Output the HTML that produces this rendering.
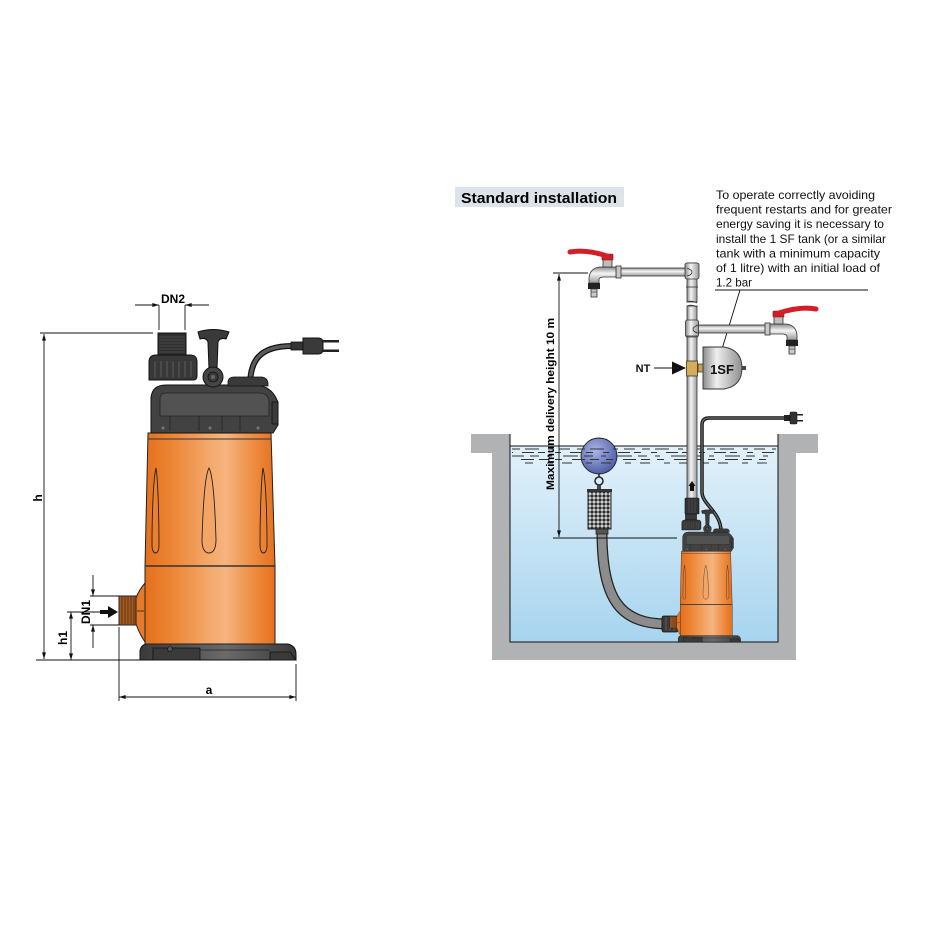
<!DOCTYPE html>
<html><head><meta charset="utf-8"><style>
html,body{margin:0;padding:0;background:#fff;}
svg{display:block;}
text{font-family:"Liberation Sans",sans-serif;}
</style></head><body>
<svg width="940" height="940" viewBox="0 0 940 940" xmlns="http://www.w3.org/2000/svg">
<defs>
<linearGradient id="og" x1="0" x2="1" y1="0" y2="0">
<stop offset="0" stop-color="#e5701c"/><stop offset="0.2" stop-color="#ec8434"/><stop offset="0.5" stop-color="#f4a96c"/><stop offset="0.62" stop-color="#f6b47f"/><stop offset="0.85" stop-color="#ed8a3c"/><stop offset="1" stop-color="#e4711f"/>
</linearGradient>
<linearGradient id="bg" x1="0" x2="1" y1="0" y2="0">
<stop offset="0" stop-color="#3a3a3a"/><stop offset="0.55" stop-color="#6a6a6a"/><stop offset="1" stop-color="#3a3a3a"/>
</linearGradient>
<linearGradient id="pv" x1="0" x2="1" y1="0" y2="0">
<stop offset="0" stop-color="#8a8a8a"/><stop offset="0.4" stop-color="#f4f4f4"/><stop offset="1" stop-color="#9a9a9a"/>
</linearGradient>
<linearGradient id="ph" x1="0" x2="0" y1="0" y2="1">
<stop offset="0" stop-color="#8a8a8a"/><stop offset="0.4" stop-color="#f4f4f4"/><stop offset="1" stop-color="#9a9a9a"/>
</linearGradient>
<linearGradient id="water" x1="0" x2="0" y1="0" y2="1">
<stop offset="0" stop-color="#e2f1fa"/><stop offset="1" stop-color="#a7d4ef"/>
</linearGradient>
<linearGradient id="tankg" x1="0" x2="1" y1="0" y2="0">
<stop offset="0" stop-color="#8c8c8c"/><stop offset="0.35" stop-color="#efefef"/><stop offset="1" stop-color="#8e8e8e"/>
</linearGradient>
<radialGradient id="ball" cx="0.4" cy="0.35" r="0.7">
<stop offset="0" stop-color="#a9b6e6"/><stop offset="1" stop-color="#4a58a4"/>
</radialGradient>
<pattern id="mesh" width="4" height="4" patternUnits="userSpaceOnUse">
<rect width="4" height="4" fill="#2a2a2a"/><path d="M0,2 L2,0 L4,2 L2,4 Z" fill="#cfcfcf"/>
</pattern>
<marker id="ar" viewBox="0 0 10 6" refX="10" refY="3" markerWidth="7" markerHeight="4" orient="auto-start-reverse" markerUnits="userSpaceOnUse"><path d="M0,0 L10,3 L0,6 z" fill="#111"/></marker>

<g id="pump">
 <!-- base -->
 <path d="M140,660 L140,651 Q141,644 148,644 L288,644 Q296,646 296,654 L296,660 Z" fill="url(#bg)" stroke="#111" stroke-width="1"/>
 <path d="M153,660 L153,648 L200,648 L200,660 Z" fill="#3a3a3a" stroke="#111" stroke-width="0.8"/>
 <path d="M270,660 L270,652 L290,652 L296,660 Z" fill="#3a3a3a" stroke="#111" stroke-width="0.8"/>
 <line x1="200" y1="650" x2="270" y2="650" stroke="#222" stroke-width="0.8"/>
 <circle cx="170" cy="649" r="2.5" fill="#555" stroke="#111" stroke-width="0.6"/>
 <!-- lower body -->
 <rect x="145" y="566" width="130" height="78" fill="url(#og)" stroke="#222" stroke-width="1"/>
 <!-- upper body -->
 <path d="M148,433 L271,433 L275,566 L145,566 Z" fill="url(#og)" stroke="#222" stroke-width="1"/>
 <line x1="148" y1="439" x2="271" y2="439" stroke="#333" stroke-width="1"/>
 <line x1="145" y1="566" x2="275" y2="566" stroke="#333" stroke-width="1.5"/>
 <!-- grooves -->
 <path d="M156,468 C153,480 152,520 152,545 C152,551 154,553 155.5,553 C157,553 159,551 159,545 C159,520 158,480 156,468 Z" fill="#ea7f2e" stroke="#222" stroke-width="0.9"/>
 <path d="M209,468 C205,475 203,505 202,540 C202,549 205,553 209,553 C213,553 216,549 216,540 C215,505 213,475 209,468 Z" fill="#f3a566" stroke="#222" stroke-width="0.9"/>
 <path d="M263,468 C261,480 260,520 260,545 C260,551 262,553 263.5,553 C265,553 267,551 267,545 C267,520 266,480 263,468 Z" fill="#eb8232" stroke="#222" stroke-width="0.9"/>
 <!-- inlet -->
 <path d="M145,583 Q139,590 136,598 L136,624 Q139,633 145,642 Z" fill="#e77a28" stroke="#222" stroke-width="1"/>
 <line x1="137" y1="611" x2="144" y2="611" stroke="#222" stroke-width="0.8"/>
 <rect x="119" y="596" width="17" height="29" fill="#a15a22" stroke="#222" stroke-width="1"/>
 <g stroke="#5a2e10" stroke-width="0.8">
  <line x1="122" y1="597" x2="122" y2="624"/><line x1="125" y1="597" x2="125" y2="624"/><line x1="128" y1="597" x2="128" y2="624"/><line x1="131" y1="597" x2="131" y2="624"/><line x1="134" y1="597" x2="134" y2="624"/>
 </g>
 <!-- housing -->
 <path d="M151,433 L151,398 Q152,385 166,385 L254,385 Q268,385 275,396 L278,402 L278,425 L273,433 Z" fill="#424242" stroke="#111" stroke-width="1"/>
 <path d="M166,393 L260,393 Q267,393 269,400 L269,416 L160,416 L160,399 Q160,393 166,393 Z" fill="#525252" stroke="#222" stroke-width="0.8"/>
 <g stroke="#222" stroke-width="0.8" fill="none">
  <path d="M170,416 L170,431 M199,416 L199,431 M222,416 L222,431 M240,416 L240,431"/>
 </g>
 <circle cx="163" cy="428" r="1.5" fill="#777"/><circle cx="210" cy="428" r="1.5" fill="#777"/><circle cx="258" cy="428" r="1.5" fill="#777"/>
 <rect x="272" y="402" width="6" height="22" fill="#3a3a3a" stroke="#111" stroke-width="0.8"/>
 <path d="M228,386 L228,381 Q229,377 234,377 L262,377 Q268,378 268,384 L268,386 Z" fill="#3a3a3a" stroke="#111" stroke-width="0.8"/>
 <!-- outlet thread -->
 <rect x="158" y="333" width="28" height="22" fill="#2f2f2f" stroke="#111" stroke-width="1"/>
 <g stroke="#555" stroke-width="0.7">
  <line x1="159" y1="337" x2="185" y2="337"/><line x1="159" y1="340" x2="185" y2="340"/><line x1="159" y1="343" x2="185" y2="343"/><line x1="159" y1="346" x2="185" y2="346"/><line x1="159" y1="349" x2="185" y2="349"/><line x1="159" y1="352" x2="185" y2="352"/>
 </g>
 <!-- nut -->
 <path d="M149,380 L149,362 Q149,355 156,355 L190,355 Q197,355 197,362 L197,376 Q197,380 193,380 L153,380 Z" fill="#383838" stroke="#111" stroke-width="1"/>
 <g stroke="#5c5c5c" stroke-width="1">
  <line x1="155" y1="361" x2="155" y2="377"/><line x1="161" y1="361" x2="161" y2="377"/><line x1="167" y1="361" x2="167" y2="377"/><line x1="173" y1="361" x2="173" y2="377"/><line x1="179" y1="361" x2="179" y2="377"/><line x1="185" y1="361" x2="185" y2="377"/><line x1="191" y1="361" x2="191" y2="377"/>
 </g>
 <!-- handle -->
 <path d="M198,332 Q213,327 229,332 L226,339 Q220,337 218,342 L217,369 L209,369 L208,342 Q206,337 200,339 Z" fill="#3a3a3a" stroke="#111" stroke-width="1"/>
 <circle cx="213" cy="377" r="10" fill="#454545" stroke="#111" stroke-width="1"/>
 <circle cx="213" cy="377" r="5" fill="#3a3a3a" stroke="#111" stroke-width="0.8"/>
 <circle cx="213" cy="377" r="2" fill="#666"/>
</g>
</defs>

<rect width="940" height="940" fill="#fff"/>

<!-- ================= LEFT PUMP ================= -->
<path d="M250,386 C250,362 258,346 292,346" fill="none" stroke="#111" stroke-width="6"/>
<path d="M250,386 C250,362 258,346 292,346" fill="none" stroke="#5a5a5a" stroke-width="3.5"/>
<rect x="291" y="342" width="12" height="8" fill="#333" stroke="#111" stroke-width="0.8"/>
<path d="M303,338 L318,338 Q323,338 323,343 L323,349 Q323,354 318,354 L303,354 Z" fill="#3a3a3a" stroke="#111" stroke-width="1"/>
<rect x="323" y="340" width="16" height="2.5" fill="#222"/>
<rect x="323" y="349.5" width="16" height="2.5" fill="#222"/>

<use href="#pump"/>

<!-- left dimensions -->
<g stroke="#111" stroke-width="0.9" fill="none">
 <line x1="40" y1="333" x2="153" y2="333"/>
 <line x1="36" y1="660" x2="148" y2="660"/>
 <line x1="44" y1="334" x2="44" y2="659" marker-start="url(#ar)" marker-end="url(#ar)"/>
 <line x1="159" y1="305" x2="159" y2="330"/>
 <line x1="185" y1="305" x2="185" y2="330"/>
 <line x1="135" y1="305" x2="159" y2="305" marker-end="url(#ar)"/>
 <line x1="209" y1="305" x2="185" y2="305" marker-end="url(#ar)"/>
 <line x1="90" y1="596" x2="119" y2="596"/>
 <line x1="90" y1="625" x2="119" y2="625"/>
 <line x1="93" y1="575" x2="93" y2="596" marker-end="url(#ar)"/>
 <line x1="93" y1="648" x2="93" y2="625" marker-end="url(#ar)"/>
 <line x1="67" y1="612" x2="104" y2="612"/>
 <line x1="71" y1="612" x2="71" y2="660" marker-start="url(#ar)" marker-end="url(#ar)"/>
 <line x1="119" y1="627" x2="119" y2="701"/>
 <line x1="296" y1="664" x2="296" y2="701"/>
 <line x1="119" y1="697" x2="296" y2="697" marker-start="url(#ar)" marker-end="url(#ar)"/>
</g>
<path d="M100,610 L108,610 L108,606 L118,612 L108,618 L108,614 L100,614 Z" fill="#111"/>
<text x="173" y="303" font-size="12" font-weight="bold" text-anchor="middle">DN2</text>
<text transform="translate(42,498) rotate(-90)" font-size="12" font-weight="bold" text-anchor="middle">h</text>
<text transform="translate(67,638) rotate(-90)" font-size="12" font-weight="bold" text-anchor="middle">h1</text>
<text transform="translate(90,612) rotate(-90)" font-size="12" font-weight="bold" text-anchor="middle">DN1</text>
<text x="209" y="694" font-size="12" font-weight="bold" text-anchor="middle">a</text>

<!-- ================= RIGHT: STANDARD INSTALLATION ================= -->
<rect x="455" y="187" width="169" height="20" fill="#dde3ea"/>
<text x="461" y="203" font-size="15" font-weight="bold" textLength="156" lengthAdjust="spacingAndGlyphs">Standard installation</text>

<g font-size="12" fill="#111">
 <text x="716" y="199" textLength="159" lengthAdjust="spacingAndGlyphs">To operate correctly avoiding</text>
 <text x="716" y="213.6" textLength="176" lengthAdjust="spacingAndGlyphs">frequent restarts and for greater</text>
 <text x="716" y="228.2" textLength="168" lengthAdjust="spacingAndGlyphs">energy saving it is necessary to</text>
 <text x="716" y="242.8" textLength="170" lengthAdjust="spacingAndGlyphs">install the 1 SF tank (or a similar</text>
 <text x="716" y="257.4" textLength="164" lengthAdjust="spacingAndGlyphs">tank with a minimum capacity</text>
 <text x="716" y="272" textLength="164" lengthAdjust="spacingAndGlyphs">of 1 litre) with an initial load of</text>
 <text x="716" y="286.6" textLength="36" lengthAdjust="spacingAndGlyphs">1.2 bar</text>
</g>
<line x1="715" y1="290" x2="868" y2="290" stroke="#111" stroke-width="0.9"/>
<line x1="740" y1="290" x2="722" y2="349" stroke="#111" stroke-width="0.9"/>

<!-- tank walls -->
<path d="M471,434 L510,434 L510,642 L778,642 L778,434 L818,434 L818,453 L796,453 L796,660 L492,660 L492,453 L471,453 Z" fill="#b1b2b4"/>
<rect x="510" y="446" width="268" height="196" fill="url(#water)"/>
<path d="M510,434 L510,642 L778,642 L778,434" fill="none" stroke="#111" stroke-width="1"/>
<line x1="510" y1="446" x2="778" y2="446" stroke="#111" stroke-width="1"/>

<!-- float ball & strainer -->
<circle cx="599" cy="456" r="18" fill="url(#ball)" stroke="#222" stroke-width="0.9"/>
<line x1="599" y1="474" x2="599" y2="477" stroke="#222" stroke-width="1.5"/>
<circle cx="599" cy="481" r="4" fill="none" stroke="#222" stroke-width="1.5"/>
<rect x="597" y="485" width="4" height="5" fill="#444"/>

<!-- water dashes -->
<g stroke="#333" stroke-width="0.9" fill="none">
 <line x1="512" y1="449" x2="776" y2="449" stroke-dasharray="8 5 14 9 5 6 11 7"/>
 <line x1="512" y1="452.5" x2="776" y2="452.5" stroke-dasharray="6 9 12 4 7 10" stroke-dashoffset="5"/>
 <line x1="512" y1="456" x2="776" y2="456" stroke-dasharray="15 6 9 8 5 11" stroke-dashoffset="3"/>
 <line x1="512" y1="459.5" x2="776" y2="459.5" stroke-dasharray="7 10 13 5 9 7" stroke-dashoffset="8"/>
 <line x1="525" y1="463" x2="770" y2="463" stroke-dasharray="10 14 6 9" stroke-dashoffset="2"/>
</g>

<!-- hose -->
<path d="M602,532 C602,600 620,624 668,624" fill="none" stroke="#222" stroke-width="11"/>
<path d="M602,532 C602,600 620,624 668,624" fill="none" stroke="#8c8c8c" stroke-width="8.5"/>
<rect x="596" y="528" width="12" height="6" fill="#555" stroke="#222" stroke-width="0.8"/>
<rect x="662" y="616" width="16" height="16" rx="2" fill="#3a3a3a" stroke="#111" stroke-width="0.8"/>
<g stroke="#666" stroke-width="0.8"><line x1="666" y1="617" x2="666" y2="631"/><line x1="670" y1="617" x2="670" y2="631"/><line x1="674" y1="617" x2="674" y2="631"/></g>

<rect x="588" y="490" width="23" height="39" fill="url(#mesh)" stroke="#222" stroke-width="1"/>
<rect x="587" y="489" width="25" height="3" fill="#333"/>

<!-- small pump cord -->
<path d="M721,533 C722,512 702,505 702,492 L702,425 Q702,418 709,418 L786,418" fill="none" stroke="#111" stroke-width="3.5"/>
<path d="M721,533 C722,512 702,505 702,492 L702,425 Q702,418 709,418 L786,418" fill="none" stroke="#666" stroke-width="1.5"/>
<rect x="784" y="415" width="6" height="6" fill="#222"/>
<rect x="790" y="412" width="7" height="12" rx="1.5" fill="#333" stroke="#111" stroke-width="0.6"/>
<rect x="797" y="414" width="6" height="1.5" fill="#222"/><rect x="797" y="420" width="6" height="1.5" fill="#222"/>

<!-- small pump -->
<use href="#pump" transform="translate(622.2,378) scale(0.4)"/>

<!-- delivery pipe -->
<rect x="687" y="306" width="10" height="206" fill="url(#pv)" stroke="#333" stroke-width="0.8"/>
<rect x="687" y="263" width="10" height="39" fill="url(#pv)" stroke="#333" stroke-width="0.8"/>
<path d="M687,302 Q692,300 697,303" fill="none" stroke="#333" stroke-width="0.8"/>
<path d="M687,306 Q692,304 697,307" fill="none" stroke="#333" stroke-width="0.8"/>
<rect x="685" y="498" width="14" height="16" rx="1" fill="#333" stroke="#111" stroke-width="0.6"/>
<g stroke="#555" stroke-width="0.7"><line x1="689" y1="499" x2="689" y2="513"/><line x1="692" y1="499" x2="692" y2="513"/><line x1="695" y1="499" x2="695" y2="513"/></g>
<path d="M690,491 L690,486 L688.5,486 L692,481 L695.5,486 L694,486 L694,491 Z" fill="#111"/>

<!-- top horizontal pipe -->
<rect x="620" y="268" width="70" height="8" fill="url(#ph)" stroke="#333" stroke-width="0.8"/>
<rect x="685" y="263" width="14" height="16" rx="2" fill="url(#pv)" stroke="#333" stroke-width="0.8"/>
<path d="M687,268 Q692,270 692,272 Q692,275 687,276" fill="none" stroke="#333" stroke-width="0.8"/>
<line x1="686" y1="287" x2="698" y2="287" stroke="#333" stroke-width="0.8"/>
<!-- second horizontal pipe -->
<rect x="697" y="325" width="69" height="8" fill="url(#ph)" stroke="#333" stroke-width="0.8"/>
<rect x="685.5" y="320" width="13" height="17" rx="2" fill="url(#pv)" stroke="#333" stroke-width="0.8"/>
<path d="M698,325 Q693,327 693,329 Q693,332 698,333" fill="none" stroke="#333" stroke-width="0.8"/>
<line x1="686" y1="336" x2="698" y2="336" stroke="#333" stroke-width="0.8"/>

<!-- taps -->
<g id="tap">
 <rect x="616" y="266" width="5" height="12" fill="#c8c8c8" stroke="#333" stroke-width="0.8"/>
 <path d="M616,267 L600,267 Q590,268 589,278 L589,283 L599,283 L599,279 Q600,277 604,277 L616,277 Z" fill="url(#ph)" stroke="#333" stroke-width="0.8"/>
 <rect x="603" y="259" width="9" height="8" fill="#bdbdbd" stroke="#333" stroke-width="0.8"/>
 <rect x="602" y="254" width="11" height="6" rx="1" fill="#d21f26" stroke="#7a0f12" stroke-width="0.6"/>
 <path d="M570,252 Q586,249 607,256" fill="none" stroke="#d21f26" stroke-width="5" stroke-linecap="round"/>
 <rect x="588" y="283" width="12" height="6" fill="#222"/>
 <rect x="591" y="289" width="6" height="8" fill="#c8c8c8" stroke="#333" stroke-width="0.8"/>
 <line x1="591" y1="292" x2="597" y2="292" stroke="#333" stroke-width="0.6"/>
</g>
<use href="#tap" transform="translate(1386,57) scale(-1,1)"/>

<!-- NT fitting & 1SF tank -->
<rect x="698" y="364" width="7" height="8" fill="#c9a04a" stroke="#333" stroke-width="0.7"/>
<rect x="686.5" y="361" width="11" height="15" fill="#d6ac55" stroke="#333" stroke-width="0.8"/>
<path d="M703,347 L724,347 Q742,350 742,368 Q742,386 724,389 L703,389 Z" fill="url(#tankg)" stroke="#333" stroke-width="0.9"/>
<rect x="742" y="366" width="4" height="4" fill="#444"/>
<text x="722" y="374" font-size="13" font-weight="bold" text-anchor="middle" fill="#111">1SF</text>

<line x1="654" y1="368" x2="673" y2="368" stroke="#111" stroke-width="1"/>
<path d="M672,361.5 L686,368 L672,374.5 Z" fill="#111"/>
<text x="643" y="372" font-size="11" font-weight="bold" text-anchor="middle" fill="#111">NT</text>

<!-- delivery height dimension -->
<g stroke="#111" stroke-width="0.9" fill="none">
 <line x1="553" y1="273" x2="588" y2="273"/>
 <line x1="553" y1="538" x2="677" y2="538"/>
 <line x1="559" y1="274" x2="559" y2="537" marker-start="url(#ar)" marker-end="url(#ar)"/>
</g>
<text transform="translate(554,404) rotate(-90)" font-size="11" font-weight="bold" text-anchor="middle" textLength="172" lengthAdjust="spacingAndGlyphs">Maximum delivery height 10 m</text>
</svg>
</body></html>
